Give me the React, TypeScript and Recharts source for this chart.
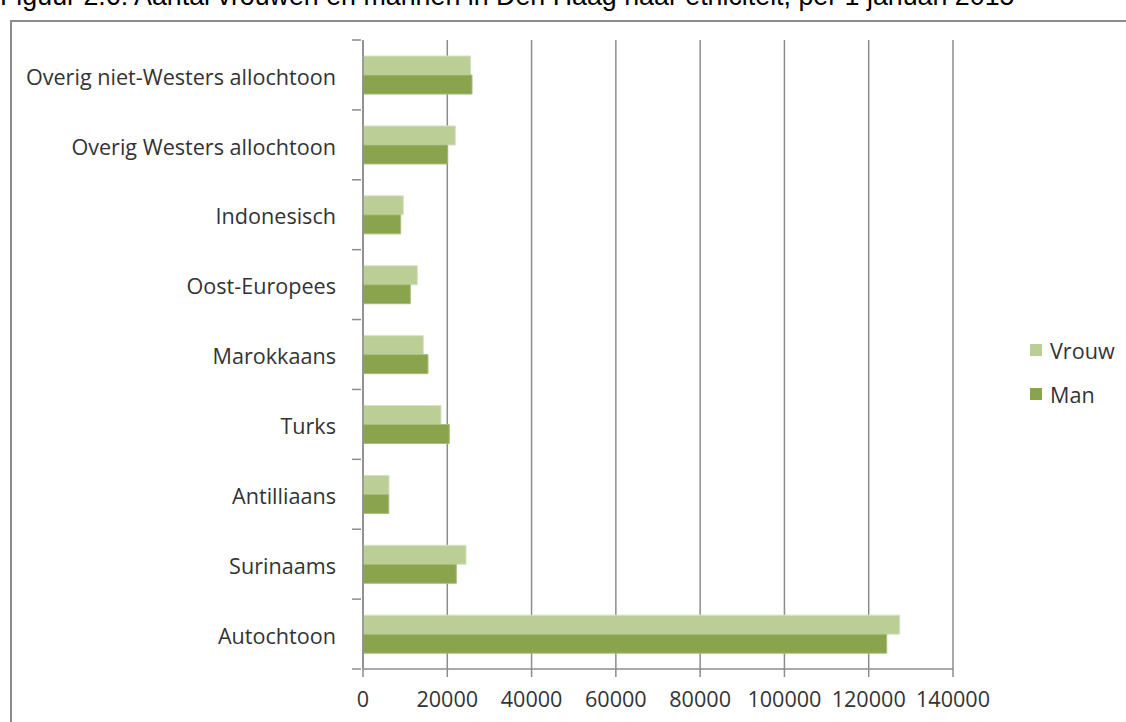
import React from "react";
import { BarChart, Bar, XAxis, YAxis, CartesianGrid, Legend } from "recharts";

const categories = [
  "Overig niet-Westers allochtoon",
  "Overig Westers allochtoon",
  "Indonesisch",
  "Oost-Europees",
  "Marokkaans",
  "Turks",
  "Antilliaans",
  "Surinaams",
  "Autochtoon",
];
const vrouw = [25560, 21900, 9570, 12890, 14310, 18510, 6170, 24440, 127350];
const man = [25870, 20100, 8940, 11230, 15420, 20480, 6120, 22140, 124270];
const xTicks = [0, 20000, 40000, 60000, 80000, 100000, 120000, 140000];
const legendOrder = ["Vrouw", "Man"];

const data = categories.map((c, i) => ({ name: c, Vrouw: vrouw[i], Man: man[i] }));

const FONT = "'Open Sans', sans-serif";
const GRID = "#8c8c8c";
const TEXT = "#333333";
const C_VROUW = "#BACE96";
const C_MAN = "#89A44C";
const FS = 21.6;

const PLOT_TOP = 40;
const PLOT_BOTTOM = 669;
const BAND = (PLOT_BOTTOM - PLOT_TOP) / categories.length;

const YTick = (props: any) => {
  const { x, y, payload, index } = props;
  const half = BAND / 2;
  return (
    <g>
      <line x1={x - 3} x2={x + 6} y1={y - half} y2={y - half} stroke={GRID} strokeWidth={1.5} />
      {index === categories.length - 1 && (
        <line x1={x - 3} x2={x + 6} y1={y + half} y2={y + half} stroke={GRID} strokeWidth={1.5} />
      )}
      <text x={x - 19} y={y} dy="0.45em" textAnchor="end" fontFamily={FONT} fontSize={FS} fill={TEXT}>
        {payload.value}
      </text>
    </g>
  );
};

const LegendContent = (props: any) => {
  const { payload } = props;
  const items = legendOrder
    .map((n) => payload.find((p: any) => p.value === n))
    .filter(Boolean);
  return (
    <div style={{ fontFamily: FONT, fontSize: FS, color: TEXT }}>
      {items.map((p: any) => (
        <div key={p.value} style={{ display: "flex", alignItems: "center", height: 44 }}>
          <span style={{ display: "inline-block", width: 12, height: 12, background: p.color, marginRight: 8 }} />
          <span>{p.value}</span>
        </div>
      ))}
    </div>
  );
};

export default function App() {
  return (
    <div style={{ position: "absolute", left: 0, top: 0, width: 1126, height: 722, overflow: "hidden", background: "#fff" }}>
      <div
        style={{
          position: "absolute",
          left: 10,
          top: 20,
          width: 1200,
          height: 800,
          borderLeft: `2px solid ${GRID}`,
          borderTop: `2px solid ${GRID}`,
        }}
      />
      <div
        style={{
          position: "absolute",
          left: 0,
          top: -19,
          fontFamily: "'Liberation Sans', Arial, sans-serif",
          fontSize: 26.8,
          color: "#000",
          whiteSpace: "nowrap",
          lineHeight: "30px",
        }}
      >
        Figuur 2.6: Aantal vrouwen en mannen in Den Haag naar etniciteit, per 1 januari 2015
      </div>
      <div style={{ position: "absolute", left: 0, top: 0 }}>
        <BarChart
          width={1126}
          height={722}
          data={data}
          layout="vertical"
          margin={{ top: PLOT_TOP, right: 1126 - 953, left: 0, bottom: 0 }}
          barCategoryGap="23%"
          barGap={0}
        >
          <CartesianGrid horizontal={false} vertical={true} stroke={GRID} strokeWidth={1.5} />
          <XAxis
            type="number"
            domain={[0, 140000]}
            ticks={xTicks}
            interval={0}
            height={722 - PLOT_BOTTOM}
            axisLine={{ stroke: GRID, strokeWidth: 1.5 }}
            tickLine={{ stroke: GRID, strokeWidth: 1.5 }}
            tickSize={8}
            tickMargin={15}
            tick={{ fontFamily: FONT, fontSize: FS, fill: TEXT }}
          />
          <YAxis
            type="category"
            dataKey="name"
            width={363}
            axisLine={{ stroke: GRID, strokeWidth: 1.5 }}
            tickLine={false}
            interval={0}
            tick={<YTick />}
          />
          <Legend
            layout="horizontal"
            verticalAlign="middle"
            align="center"
            content={<LegendContent />}
            wrapperStyle={{ position: "absolute", left: 1030, top: 328, width: 100 }}
          />
          <Bar dataKey="Vrouw" fill={C_VROUW} stroke="#d6e2c2" strokeWidth={1} isAnimationActive={false} />
          <Bar dataKey="Man" fill={C_MAN} stroke="#a9bd7c" strokeWidth={1} isAnimationActive={false} />
        </BarChart>
      </div>
    </div>
  );
}
